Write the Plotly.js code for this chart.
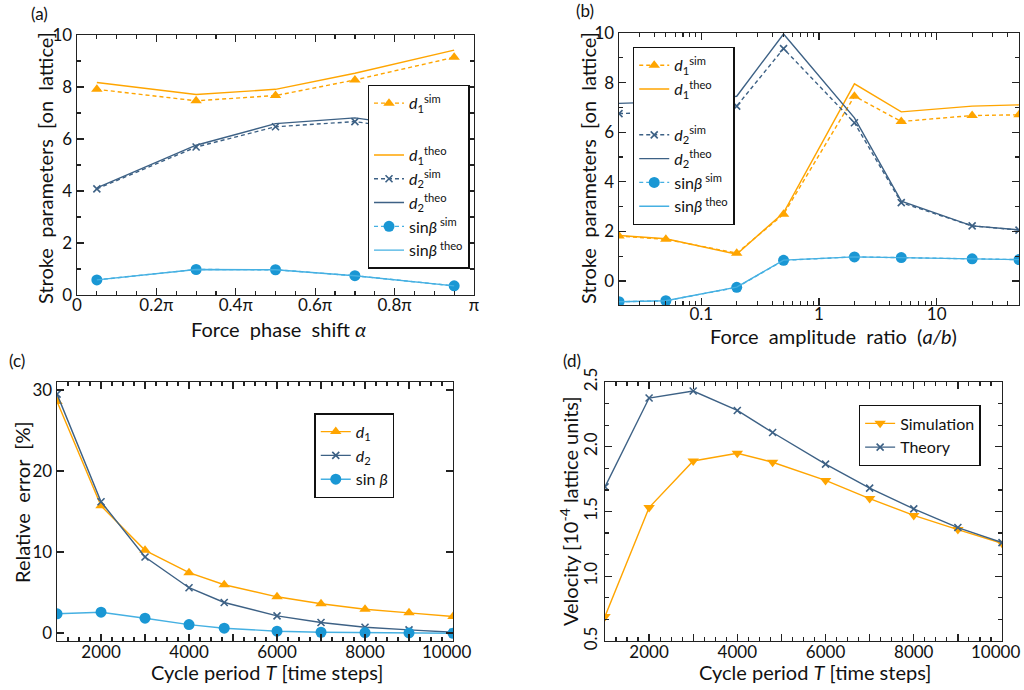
<!DOCTYPE html>
<html>
<head>
<meta charset="utf-8">
<script src="https://cdn.plot.ly/plotly-3.0.1.min.js"></script>
<style>html,body{margin:0;padding:0;background:#fff;}#chart{width:1024px;height:690px;}</style>
</head>
<body>
<div id="chart"></div>
<script>
// ---------- Data ----------
// (a) phase shift alpha (in units of pi)
const alphaVals = [0.05, 0.3, 0.5, 0.7, 0.95];
const a_d1Sim   = [7.91, 7.47, 7.67, 8.27, 9.14];
const a_d1Theo  = [8.17, 7.71, 7.91, 8.53, 9.42];
const a_d2Sim   = [4.08, 5.69, 6.47, 6.67, 6.13];
const a_d2Theo  = [4.12, 5.76, 6.59, 6.81, 6.28];
const a_sbSim   = [0.58, 0.98, 0.97, 0.74, 0.35];
const a_sbTheo  = [0.58, 0.98, 0.97, 0.74, 0.35];

// (b) amplitude ratio a/b
const ratioVals = [0.02, 0.05, 0.2, 0.5, 2, 5, 20, 50];
const b_d1Sim   = [1.81, 1.68, 1.12, 2.69, 7.45, 6.43, 6.67, 6.70];
const b_d1Theo  = [1.83, 1.70, 1.08, 2.75, 7.95, 6.82, 7.05, 7.10];
const b_d2Sim   = [6.75, 6.81, 7.05, 9.37, 6.38, 3.16, 2.22, 2.05];
const b_d2Theo  = [7.16, 7.22, 7.45, 9.96, 6.58, 3.22, 2.22, 2.06];
const b_sbSim   = [-0.84, -0.80, -0.26, 0.83, 0.97, 0.94, 0.89, 0.86];
const b_sbTheo  = [-0.84, -0.80, -0.25, 0.84, 0.97, 0.94, 0.89, 0.86];

// (c) relative error vs cycle period
const periodVals = [1000, 2000, 3000, 4000, 4800, 6000, 7000, 8000, 9000, 10000];
const c_d1 = [28.6, 15.7, 10.2, 7.44, 5.95, 4.46, 3.6, 2.93, 2.48, 2.02];
const c_d2 = [29.5, 16.2, 9.38, 5.58, 3.76, 2.1, 1.28, 0.7, 0.37, 0.08];
const c_sb = [2.36, 2.56, 1.82, 1.03, 0.58, 0.21, 0.08, 0.04, 0.0, -0.04];

// (d) velocity vs cycle period
const d_sim    = [0.69, 1.53, 1.89, 1.95, 1.88, 1.74, 1.60, 1.47, 1.36, 1.255];
const d_theory = [1.69, 2.376, 2.43, 2.28, 2.11, 1.866, 1.68, 1.52, 1.376, 1.26];

// tick labels
const alphaTickVals = [0, 0.2, 0.4, 0.6, 0.8, 1];
const alphaTickText = ['0', '0.2π', '0.4π', '0.6π', '0.8π', 'π'];
const ratioTickVals = [0.1, 1, 10];
const ratioTickText = ['0.1', '1', '10'];
const periodTickVals = [1000, 2000, 3000, 4000, 5000, 6000, 7000, 8000, 9000, 10000];
const periodTickText = ['', '2000', '', '4000', '', '6000', '', '8000', '', ''];
const periodLastLabel = '10000';   // drawn slightly left of its tick, as in the figure

// axis titles
const titleAX = 'Force  phase  shift <i>α</i>';
const titleAY = 'Stroke  parameters  [on  lattice]';
const titleBX = 'Force  amplitude  ratio  (<i>a/b</i>)';
const titleBY = 'Stroke  parameters  [on  lattice]';
const titleCX = 'Cycle period <i>T</i> [time steps]';
const titleCY = 'Relative  error  [%]';
const titleDX = 'Cycle period <i>T</i> [time steps]';
const titleDY = 'Velocity [10<sup>-4</sup> lattice units]';

// ---------- Styles ----------
const ORANGE = '#FFA500';
const DARK = '#3d6185';
const LBLUE = '#1a97d4';
const LBLUE_LINE = '#45b0e2';
const FONT = 'Lato, "Open Sans", sans-serif';
const AX = '#222';

function axisBase(extra) {
  return Object.assign({
    showline: true, linecolor: AX, linewidth: 1.4, mirror: 'allticks',
    ticks: 'inside', ticklen: 7, tickwidth: 1.3, tickcolor: AX,
    showgrid: false, zeroline: false, ticklabeloverflow: 'allow',
    tickfont: {family: FONT, size: 17, color: '#111'}
  }, extra);
}
function xAxisBase(extra) {
  return axisBase(Object.assign({ticklabelstandoff: -5}, extra));
}
function minor(extra) {
  return Object.assign({ticks: 'inside', ticklen: 4, tickwidth: 1.2, tickcolor: AX, showgrid: false}, extra);
}

const simDash = '4px,3px';
const traces = [
  // ---- (a)
  {x: alphaVals, y: a_d1Sim, xaxis: 'x', yaxis: 'y', mode: 'lines+markers', name: '<i>d</i><sub>1</sub><sup>sim</sup>',
   line: {color: ORANGE, width: 1.4, dash: simDash}, marker: {symbol: 'triangle-up', size: 10, color: ORANGE},
   legend: 'legend', legendgroup: 'a1'},
  {x: alphaVals, y: a_d1Theo, xaxis: 'x', yaxis: 'y', mode: 'lines', name: '<i>d</i><sub>1</sub><sup>theo</sup>',
   line: {color: ORANGE, width: 1.4}, legend: 'legend', legendgroup: 'a2'},
  {x: alphaVals, y: a_d2Sim, xaxis: 'x', yaxis: 'y', mode: 'lines+markers', name: '<i>d</i><sub>2</sub><sup>sim</sup>',
   line: {color: DARK, width: 1.4, dash: simDash}, marker: {symbol: 'x-thin', size: 7, line: {color: DARK, width: 1.6}},
   legend: 'legend', legendgroup: 'a2'},
  {x: alphaVals, y: a_d2Theo, xaxis: 'x', yaxis: 'y', mode: 'lines', name: '<i>d</i><sub>2</sub><sup>theo</sup>',
   line: {color: DARK, width: 1.4}, legend: 'legend', legendgroup: 'a2'},
  {x: alphaVals, y: a_sbSim, xaxis: 'x', yaxis: 'y', mode: 'lines+markers', name: 'sin<i>β</i><sup> sim</sup>',
   line: {color: LBLUE_LINE, width: 1.4, dash: simDash}, marker: {symbol: 'circle', size: 11, color: LBLUE},
   legend: 'legend', legendgroup: 'a2'},
  {x: alphaVals, y: a_sbTheo, xaxis: 'x', yaxis: 'y', mode: 'lines', name: 'sin<i>β</i><sup> theo</sup>',
   line: {color: LBLUE_LINE, width: 1.4}, legend: 'legend', legendgroup: 'a2'},

  // ---- (b)
  {x: ratioVals, y: b_d1Sim, xaxis: 'x2', yaxis: 'y2', mode: 'lines+markers', name: '<i>d</i><sub>1</sub><sup>sim</sup>',
   line: {color: ORANGE, width: 1.4, dash: simDash}, marker: {symbol: 'triangle-up', size: 10, color: ORANGE},
   legend: 'legend2', legendgroup: 'b1'},
  {x: ratioVals, y: b_d1Theo, xaxis: 'x2', yaxis: 'y2', mode: 'lines', name: '<i>d</i><sub>1</sub><sup>theo</sup>',
   line: {color: ORANGE, width: 1.4}, legend: 'legend2', legendgroup: 'b1'},
  {x: ratioVals, y: b_d2Sim, xaxis: 'x2', yaxis: 'y2', mode: 'lines+markers', name: '<i>d</i><sub>2</sub><sup>sim</sup>',
   line: {color: DARK, width: 1.4, dash: simDash}, marker: {symbol: 'x-thin', size: 7, line: {color: DARK, width: 1.6}},
   legend: 'legend2', legendgroup: 'b2'},
  {x: ratioVals, y: b_d2Theo, xaxis: 'x2', yaxis: 'y2', mode: 'lines', name: '<i>d</i><sub>2</sub><sup>theo</sup>',
   line: {color: DARK, width: 1.4}, legend: 'legend2', legendgroup: 'b2'},
  {x: ratioVals, y: b_sbSim, xaxis: 'x2', yaxis: 'y2', mode: 'lines+markers', name: 'sin<i>β</i><sup> sim</sup>',
   line: {color: LBLUE_LINE, width: 1.4, dash: simDash}, marker: {symbol: 'circle', size: 11, color: LBLUE},
   legend: 'legend2', legendgroup: 'b2'},
  {x: ratioVals, y: b_sbTheo, xaxis: 'x2', yaxis: 'y2', mode: 'lines', name: 'sin<i>β</i><sup> theo</sup>',
   line: {color: LBLUE_LINE, width: 1.4}, legend: 'legend2', legendgroup: 'b2'},

  // ---- (c)
  {x: periodVals, y: c_d1, xaxis: 'x3', yaxis: 'y3', mode: 'lines+markers', name: '<i>d</i><sub>1</sub>',
   line: {color: ORANGE, width: 1.4}, marker: {symbol: 'triangle-up', size: 10, color: ORANGE}, legend: 'legend3'},
  {x: periodVals, y: c_d2, xaxis: 'x3', yaxis: 'y3', mode: 'lines+markers', name: '<i>d</i><sub>2</sub>',
   line: {color: DARK, width: 1.4}, marker: {symbol: 'x-thin', size: 7, line: {color: DARK, width: 1.6}}, legend: 'legend3'},
  {x: periodVals, y: c_sb, xaxis: 'x3', yaxis: 'y3', mode: 'lines+markers', name: 'sin <i>β</i>',
   line: {color: LBLUE_LINE, width: 1.4}, marker: {symbol: 'circle', size: 11, color: LBLUE}, legend: 'legend3'},

  // ---- (d)
  {x: periodVals, y: d_sim, xaxis: 'x4', yaxis: 'y4', mode: 'lines+markers', name: 'Simulation',
   line: {color: ORANGE, width: 1.4}, marker: {symbol: 'triangle-down', size: 10, color: ORANGE}, legend: 'legend4'},
  {x: periodVals, y: d_theory, xaxis: 'x4', yaxis: 'y4', mode: 'lines+markers', name: 'Theory',
   line: {color: DARK, width: 1.4}, marker: {symbol: 'x-thin', size: 7, line: {color: DARK, width: 1.6}}, legend: 'legend4'}
];

function legendBox(x, y, extra) {
  return Object.assign({
    x: x, y: y, xanchor: 'left', yanchor: 'top', xref: 'paper', yref: 'paper',
    bgcolor: '#fff', bordercolor: '#111', borderwidth: 1.4,
    font: {family: FONT, size: 16, color: '#111'}, itemwidth: 30, traceorder: 'grouped'
  }, extra);
}

function ann(text, px, py, angle, size) {
  return {text: text, x: px / 1024, y: 1 - py / 690, xref: 'paper', yref: 'paper',
    xanchor: 'center', yanchor: 'middle', showarrow: false, textangle: angle || 0,
    font: {family: FONT, size: size || 20, color: '#111'}};
}

const layout = {
  width: 1024, height: 690,
  margin: {l: 0, r: 0, t: 0, b: 0},
  paper_bgcolor: '#fff', plot_bgcolor: '#fff',
  font: {family: FONT, color: '#111'},
  showlegend: true,
  // (a)
  xaxis: xAxisBase({domain: [0.0752, 0.4629], anchor: 'y', range: [0, 1], ticklabelstandoff: -6,
    tickmode: 'array', tickvals: alphaTickVals, ticktext: alphaTickText,
    minor: minor({tickmode: 'linear', tick0: 0, dtick: 0.05})}),
  yaxis: axisBase({domain: [0.5725, 0.9493], anchor: 'x', range: [0, 10], dtick: 2,
    minor: minor({dtick: 1})}),
  // (b)
  xaxis2: xAxisBase({domain: [0.6045, 0.9951], anchor: 'y2', type: 'log', range: [Math.log10(0.02), Math.log10(50)],
    ticklabelstandoff: -7,
    tickmode: 'array', tickvals: ratioTickVals, ticktext: ratioTickText,
    minor: minor({dtick: 'D1'})}),
  yaxis2: axisBase({domain: [0.558, 0.9522], anchor: 'x2', range: [-0.97, 10], tickmode: 'array',
    tickvals: [0, 2, 4, 6, 8, 10],
    minor: minor({tickmode: 'linear', tick0: 0, dtick: 1})}),
  // (c)
  xaxis3: xAxisBase({domain: [0.0557, 0.4424], anchor: 'y3', range: [1000, 10000],
    tickmode: 'array', tickvals: periodTickVals, ticktext: periodTickText,
    minor: minor({tickmode: 'linear', tick0: 1000, dtick: 250})}),
  yaxis3: axisBase({domain: [0.071, 0.4464], anchor: 'x3', range: [-1, 31], tickmode: 'array', tickvals: [0, 10, 20, 30]}),
  // (d)
  xaxis4: xAxisBase({domain: [0.5908, 0.9785], anchor: 'y4', range: [1000, 10000],
    tickmode: 'array', tickvals: periodTickVals, ticktext: periodTickText,
    minor: minor({tickmode: 'linear', tick0: 1000, dtick: 250})}),
  yaxis4: axisBase({domain: [0.071, 0.4464], anchor: 'x4', range: [0.5, 2.5], tickmode: 'array',
    tickvals: [0.5, 1.0, 1.5, 2.0, 2.5], ticktext: ['0.5', '1.0', '1.5', '2.0', '2.5'], tickangle: -90,
    minor: minor({tickmode: 'linear', tick0: 0.5, dtick: 0.5 / 3})}),

  legend: legendBox(0.359, 0.877, {tracegroupgap: 28}),
  legend2: legendBox(0.618, 0.932, {tracegroupgap: 22}),
  legend3: legendBox(0.307, 0.401, {}),
  legend4: legendBox(0.8386, 0.413, {}),

  annotations: [
    ann('(a)', 39, 14, 0, 17),
    ann('(b)', 585, 11, 0, 17),
    ann('(c)', 17, 360, 0, 17),
    ann('(d)', 572, 360, 0, 17),
    ann(titleAX, 278, 329, 0, 20),
    ann(titleAY, 45, 168, -90, 20),
    ann(titleBX, 833, 336, 0, 20),
    ann(titleBY, 588, 168, -90, 20),
    ann(titleCX, 267, 672, 0, 20),
    ann(titleCY, 22, 502, -90, 20),
    ann(titleDX, 815, 672, 0, 20),
    ann(titleDY, 569, 511, -90, 20),
    ann(periodLastLabel, 446, 651, 0, 17),
    ann(periodLastLabel, 995, 651, 0, 17)
  ]
};

Plotly.newPlot('chart', traces, layout, {displayModeBar: false, staticPlot: true});
</script>
</body>
</html>
